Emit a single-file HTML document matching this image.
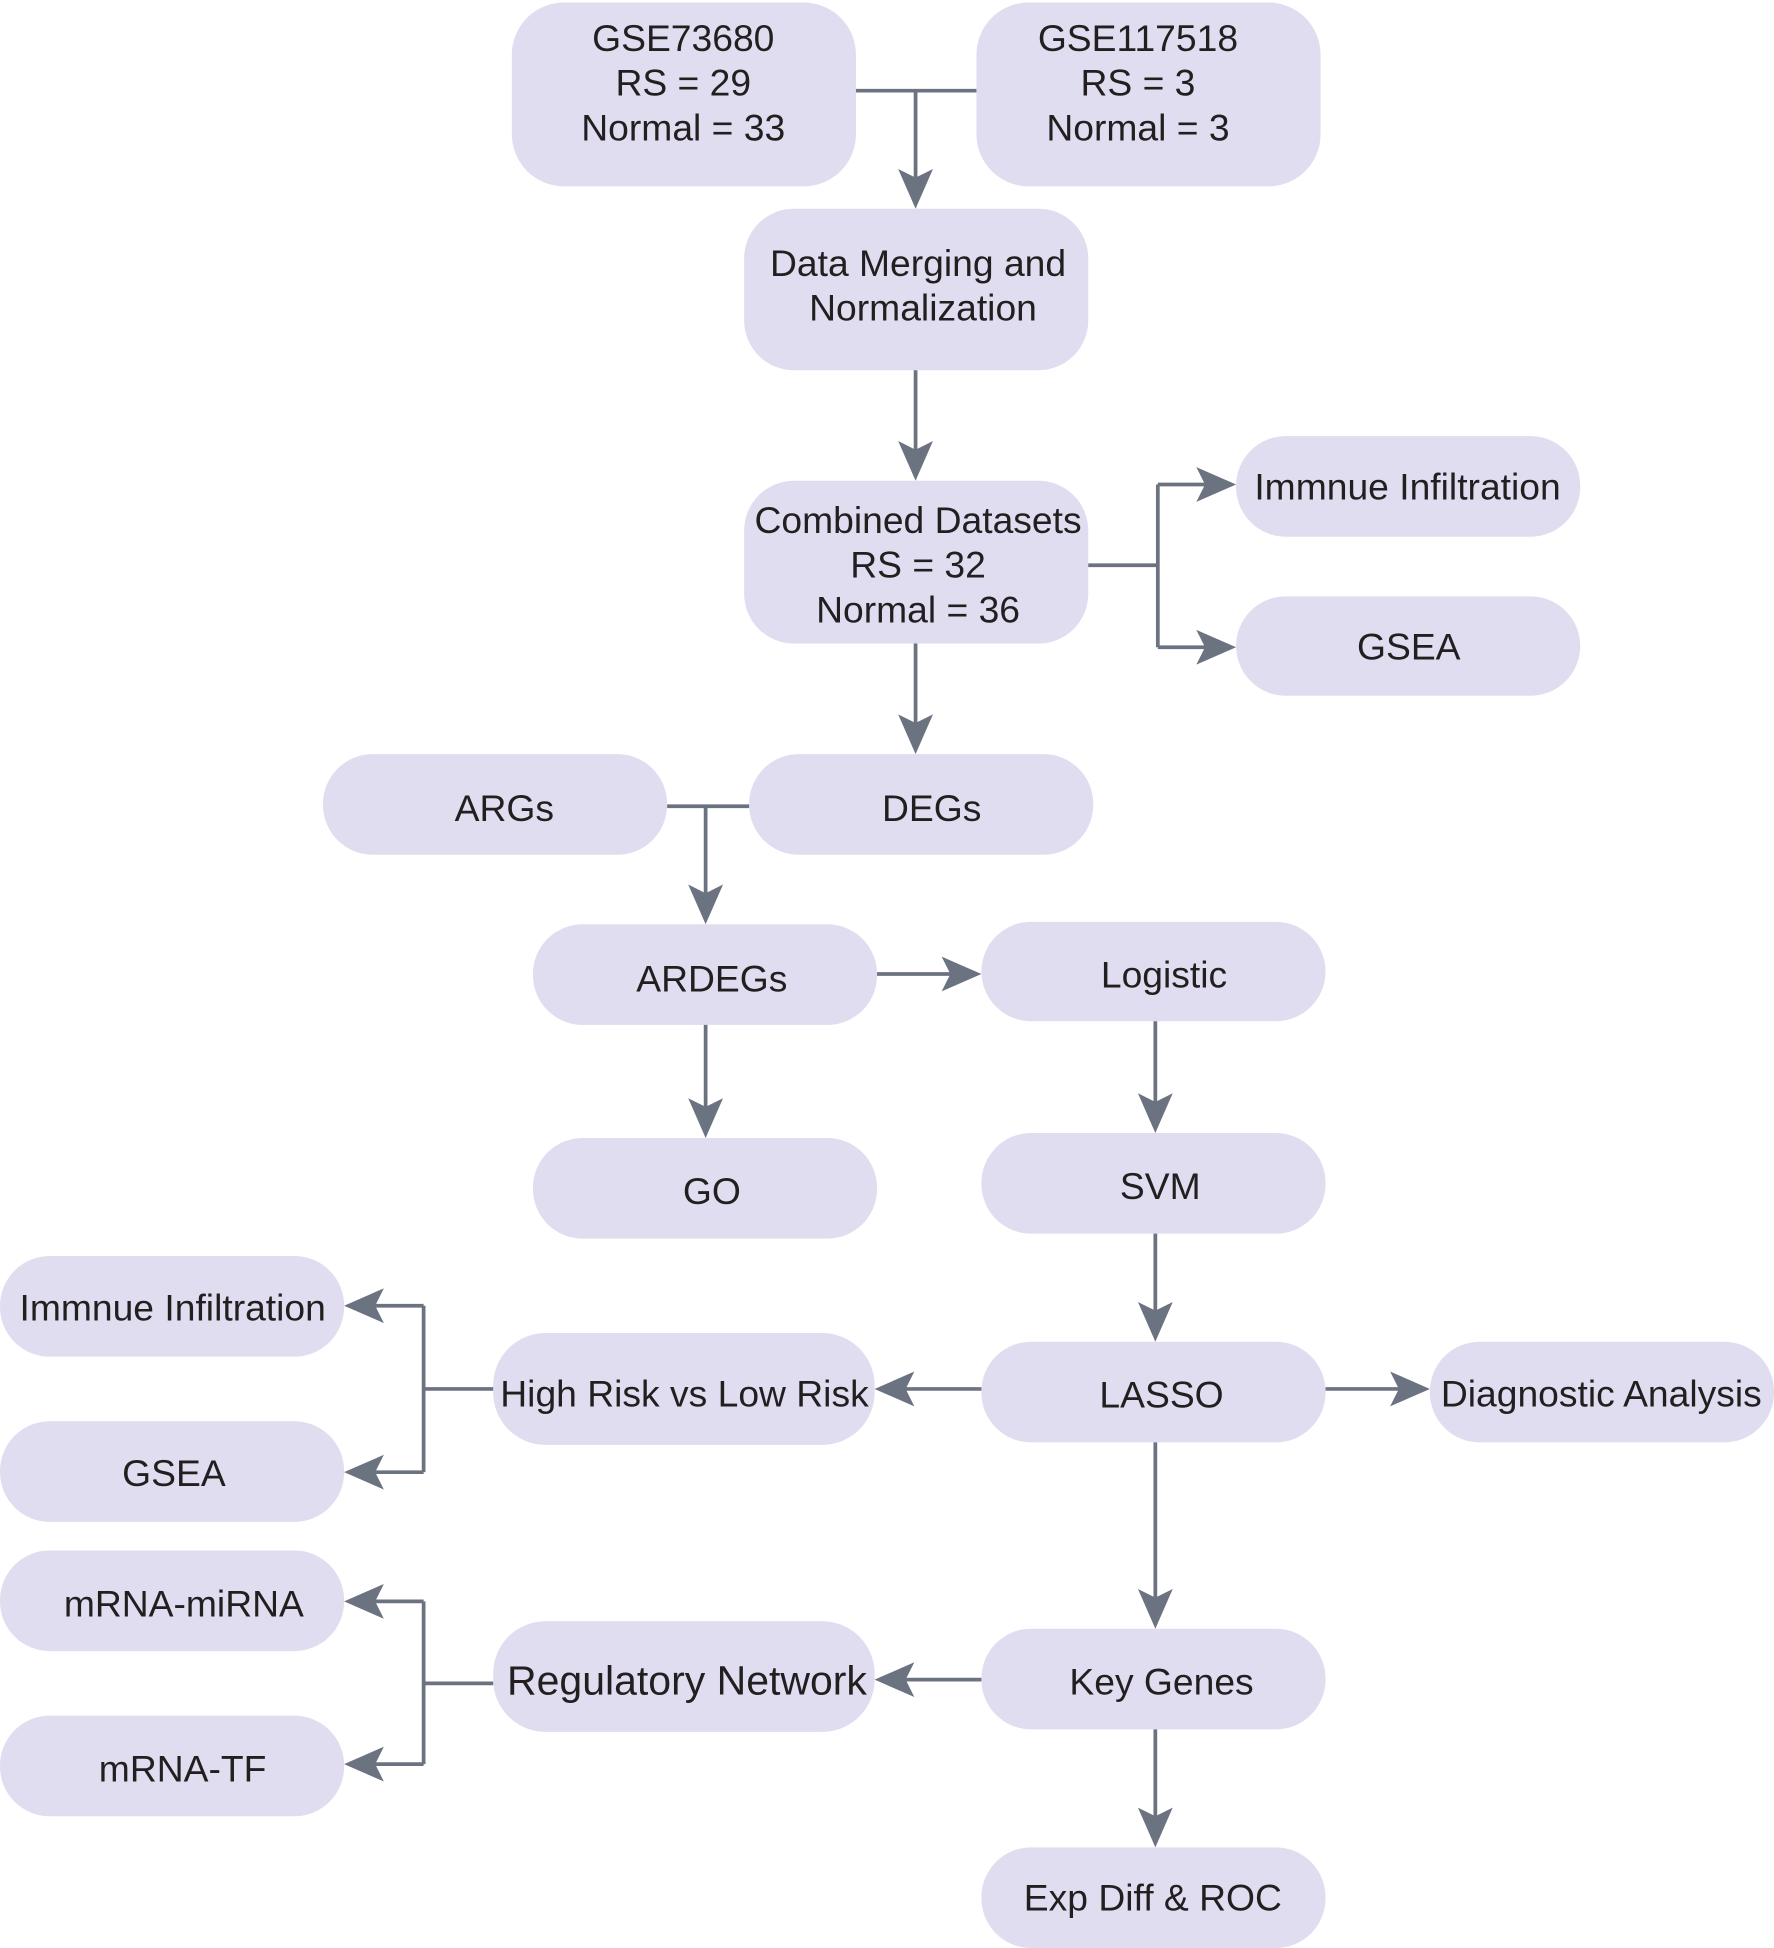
<!DOCTYPE html>
<html><head><meta charset="utf-8"><style>
html,body{margin:0;padding:0;background:#fff;}
svg{display:block;}
text{font-family:"Liberation Sans",Arial,sans-serif;font-size:30px;fill:#231f20;text-anchor:middle;}
</style></head><body>
<svg width="1774" height="1948" viewBox="0 0 1428 1568" preserveAspectRatio="none" xmlns="http://www.w3.org/2000/svg">
<g fill="#dfddef">
<rect x="412" y="2" width="277" height="148" rx="42"/>
<rect x="786" y="2" width="277" height="148" rx="42"/>
<rect x="599" y="168" width="277" height="130" rx="40"/>
<rect x="599" y="387" width="277" height="131" rx="40"/>
<rect x="995" y="351" width="277" height="81" rx="40"/>
<rect x="995" y="480" width="277" height="80" rx="40"/>
<rect x="260" y="607" width="277" height="81" rx="40"/>
<rect x="603" y="607" width="277" height="81" rx="40"/>
<rect x="429" y="744" width="277" height="81" rx="40"/>
<rect x="790" y="742" width="277" height="80" rx="40"/>
<rect x="429" y="916" width="277" height="81" rx="40"/>
<rect x="790" y="912" width="277" height="81" rx="40"/>
<rect x="0" y="1011" width="277" height="81" rx="40"/>
<rect x="397" y="1073" width="307" height="90" rx="42"/>
<rect x="790" y="1080" width="277" height="81" rx="40"/>
<rect x="1151" y="1080" width="277" height="81" rx="40"/>
<rect x="0" y="1144" width="277" height="81" rx="40"/>
<rect x="0" y="1248" width="277" height="81" rx="40"/>
<rect x="397" y="1305" width="307" height="89" rx="42"/>
<rect x="790" y="1311" width="277" height="81" rx="40"/>
<rect x="0" y="1381" width="277" height="81" rx="40"/>
<rect x="790" y="1487" width="277" height="81" rx="40"/>
</g>
<g stroke="#6b7280" stroke-width="3" fill="none">
<path d="M689 73H786M737 73V150"/>
<path d="M737 298V365"/>
<path d="M876 455H932M932 390V521M932 390H975M932 521H975"/>
<path d="M737 518V585"/>
<path d="M537 649H603M568 649V722"/>
<path d="M706 784H768"/>
<path d="M568 825V894"/>
<path d="M930 822V890"/>
<path d="M930 993V1058"/>
<path d="M790 1118H726"/>
<path d="M397 1118H341M341 1051V1185M341 1051H297M341 1185H297"/>
<path d="M1067 1118H1129"/>
<path d="M930 1161V1289"/>
<path d="M790 1352H726"/>
<path d="M397 1355H341M341 1289V1420M341 1289H297M341 1420H297"/>
<path d="M930 1392V1465"/>
</g>
<g fill="#6b7280">
<path d="M737 168L723 136L737 143L751 136Z"/>
<path d="M737 387L723 355L737 362L751 355Z"/>
<path d="M737 607L723 575L737 582L751 575Z"/>
<path d="M568 744L554 712L568 719L582 712Z"/>
<path d="M568 916L554 884L568 891L582 884Z"/>
<path d="M930 912L916 880L930 887L944 880Z"/>
<path d="M930 1080L916 1048L930 1055L944 1048Z"/>
<path d="M930 1311L916 1279L930 1286L944 1279Z"/>
<path d="M930 1487L916 1455L930 1462L944 1455Z"/>
<path d="M995 390L963 376L970 390L963 404Z"/>
<path d="M995 521L963 507L970 521L963 535Z"/>
<path d="M790 784L758 770L765 784L758 798Z"/>
<path d="M1151 1118L1119 1104L1126 1118L1119 1132Z"/>
<path d="M704 1118L736 1104L729 1118L736 1132Z"/>
<path d="M704 1352L736 1338L729 1352L736 1366Z"/>
<path d="M277 1051L309 1037L302 1051L309 1065Z"/>
<path d="M277 1185L309 1171L302 1185L309 1199Z"/>
<path d="M277 1289L309 1275L302 1289L309 1303Z"/>
<path d="M277 1420L309 1406L302 1420L309 1434Z"/>
</g>
<text x="550" y="41">GSE73680</text>
<text x="550" y="77">RS = 29</text>
<text x="550" y="113">Normal = 33</text>
<text x="916" y="41">GSE117518</text>
<text x="916" y="77">RS = 3</text>
<text x="916" y="113">Normal = 3</text>
<text x="739" y="222">Data Merging and</text>
<text x="743" y="258">Normalization</text>
<text x="739" y="429">Combined Datasets</text>
<text x="739" y="465">RS = 32</text>
<text x="739" y="501">Normal = 36</text>
<text x="1133" y="402">Immnue Infiltration</text>
<text x="1134" y="531">GSEA</text>
<text x="406" y="661">ARGs</text>
<text x="750" y="661">DEGs</text>
<text x="573" y="798">ARDEGs</text>
<text x="937" y="795">Logistic</text>
<text x="573" y="969">GO</text>
<text x="934" y="965">SVM</text>
<text x="139" y="1063">Immnue Infiltration</text>
<text x="551" y="1132">High Risk vs Low Risk</text>
<text x="935" y="1133">LASSO</text>
<text x="1289" y="1132">Diagnostic Analysis</text>
<text x="140" y="1196">GSEA</text>
<text x="148" y="1301">mRNA-miRNA</text>
<text x="553" y="1364" style="font-size:33px">Regulatory Network</text>
<text x="935" y="1364">Key Genes</text>
<text x="147" y="1434">mRNA-TF</text>
<text x="928" y="1538">Exp Diff &amp; ROC</text>
</svg>
</body></html>
